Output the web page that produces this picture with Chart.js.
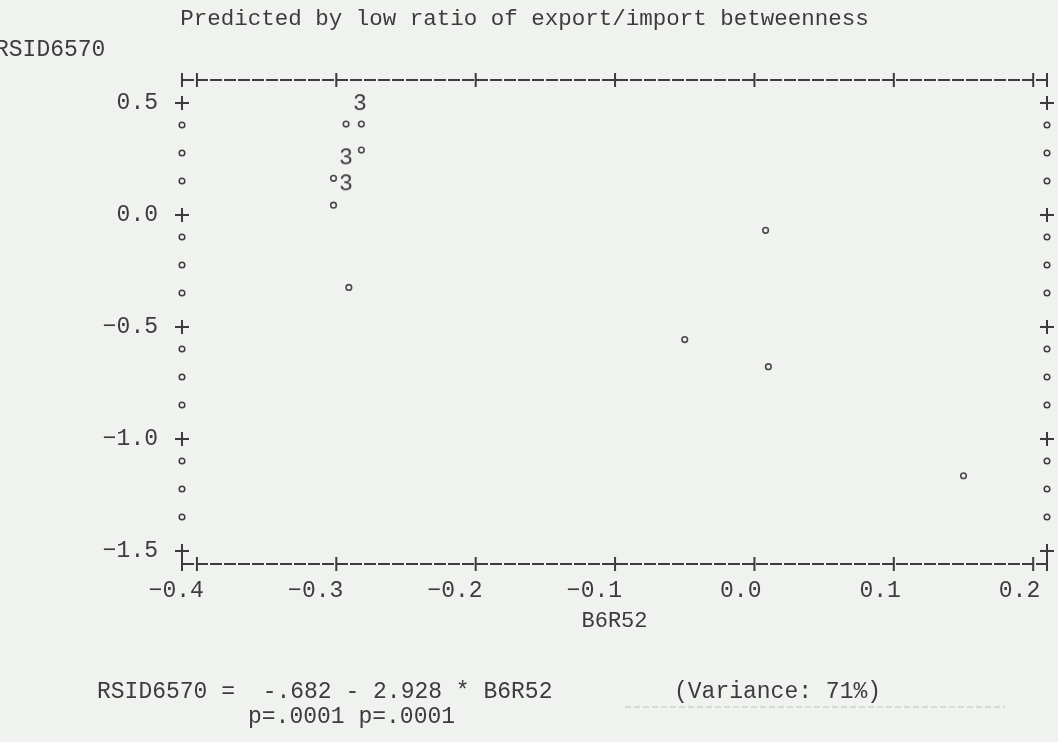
<!DOCTYPE html>
<html>
<head>
<meta charset="utf-8">
<script src="https://cdn.jsdelivr.net/npm/chart.js@4.4.1/dist/chart.umd.min.js"></script>
<style>
    html, body { margin: 0; padding: 0; background: #eff2ee; }
    #wrap { width: 1058px; height: 742px; }
</style>
</head>
<body>
<div id="wrap"><canvas id="plotChart"></canvas></div>
<script>
// axis ticks
const xTicks = [-0.4, -0.3, -0.2, -0.1, 0.0, 0.1, 0.2];
const yMajor = [0.5, 0.0, -0.5, -1.0, -1.5];
const yRows = [0.5, 0.375, 0.25, 0.125, 0.0, -0.125, -0.25, -0.375, -0.5,
    -0.625, -0.75, -0.875, -1.0, -1.125, -1.25, -1.375, -1.5];

// single observations (B6R52, RSID6570)
const singleX = [-0.293, -0.282, -0.282, -0.302, -0.302, -0.291, 0.008, -0.050, 0.010, 0.150];
const singleY = [0.406, 0.406, 0.290, 0.164, 0.044, -0.323, -0.068, -0.556, -0.677, -1.164];

// stacked observations, printed as their count
const multiX = [-0.283, -0.293, -0.293];
const multiY = [0.500, 0.258, 0.142];
const multiCount = [3, 3, 3];

const ink = '#3c3c3c';
const mono = 'Liberation Mono';
const bg = '#eff2ee';

function fmtTick(v) {
    if (Math.abs(v) < 1e-9) return '0.0';
    return (v < 0 ? '−' : '') + Math.abs(v).toFixed(1);
}

function glyph(ch) {
    const c = document.createElement('canvas');
    c.width = 18;
    c.height = 26;
    const g = c.getContext('2d');
    g.font = `23px "${mono}"`;
    g.fillStyle = ink;
    g.textAlign = 'center';
    g.textBaseline = 'middle';
    g.fillText(ch, 9, 14);
    return c;
}

const printerFrame = {
    id: 'printerFrame',
    beforeDatasetsDraw(chart) {
        const { ctx, chartArea, scales } = chart;
        const { left, right, top, bottom } = chartArea;
        const arm = 7;
        ctx.save();
        ctx.strokeStyle = ink;
        ctx.lineWidth = 2;

        ctx.setLineDash([12, 2]);
        [top, bottom].forEach(yy => {
            ctx.beginPath();
            ctx.moveTo(left, yy);
            ctx.lineTo(right, yy);
            ctx.stroke();
        });
        ctx.setLineDash([]);

        const cols = [left, right].concat(xTicks.map(v => scales.x.getPixelForValue(v)));
        cols.forEach(px => {
            [top, bottom].forEach(yy => {
                ctx.beginPath();
                ctx.moveTo(px, yy - arm);
                ctx.lineTo(px, yy + arm);
                ctx.stroke();
            });
        });

        yRows.forEach(v => {
            const py = scales.y.getPixelForValue(v);
            [left, right].forEach(px => {
                if (yMajor.includes(v)) {
                    ctx.lineWidth = 2;
                    ctx.beginPath();
                    ctx.moveTo(px - arm, py);
                    ctx.lineTo(px + arm, py);
                    ctx.moveTo(px, py - arm);
                    ctx.lineTo(px, py + arm);
                    ctx.stroke();
                } else {
                    ctx.lineWidth = 1.5;
                    ctx.beginPath();
                    ctx.arc(px, py - 6, 2.8, 0, Math.PI * 2);
                    ctx.stroke();
                }
            });
        });
        ctx.restore();
    }
};

const printerText = {
    id: 'printerText',
    afterDraw(chart) {
        const ctx = chart.ctx;
        ctx.save();
        ctx.fillStyle = ink;
        ctx.font = `23px "${mono}"`;
        ctx.textBaseline = 'middle';
        ctx.textAlign = 'left';
        ctx.fillText('RSID6570', -5, 50);
        ctx.fillText('RSID6570 =  -.682 - 2.928 * B6R52', 97, 692);
        ctx.fillText('(Variance: 71%)', 674, 692);
        ctx.fillText('p=.0001 p=.0001', 248, 717);

        ctx.strokeStyle = 'rgba(60,60,60,0.25)';
        ctx.lineWidth = 1;
        ctx.setLineDash([6, 3]);
        ctx.beginPath();
        ctx.moveTo(625, 707);
        ctx.lineTo(1005, 707);
        ctx.stroke();
        ctx.restore();
    }
};

const multiStyles = multiCount.map(n => glyph(String(n)));

new Chart(document.getElementById('plotChart'), {
    type: 'scatter',
    data: {
        datasets: [{
            label: 'single',
            data: singleX.map((x, i) => ({ x: x, y: singleY[i] })),
            pointStyle: 'circle',
            pointRadius: 2.8,
            borderWidth: 1.6,
            borderColor: '#4a4a4a',
            backgroundColor: bg
        }, {
            label: 'multiple',
            data: multiX.map((x, i) => ({ x: x, y: multiY[i] })),
            pointStyle: multiStyles,
            pointRadius: 10
        }]
    },
    options: {
        responsive: true,
        maintainAspectRatio: false,
        animation: false,
        events: [],
        layout: { padding: { left: 0, right: 9, top: 0, bottom: 108 } },
        plugins: {
            legend: { display: false },
            tooltip: { enabled: false },
            title: {
                display: true,
                text: 'Predicted by low ratio of export/import betweenness',
                color: ink,
                font: { family: mono, size: 22.5, weight: 'normal' },
                padding: { top: 6, bottom: 47 }
            }
        },
        scales: {
            x: {
                type: 'linear',
                min: -0.4107,
                max: 0.2099,
                afterBuildTicks: s => { s.ticks = xTicks.map(v => ({ value: v })); },
                grid: { display: false, drawTicks: false },
                border: { display: false },
                ticks: {
                    color: ink,
                    font: { family: mono, size: 23 },
                    padding: 13,
                    align: 'end',
                    labelOffset: 7,
                    maxRotation: 0,
                    autoSkip: false,
                    callback: v => fmtTick(v)
                },
                title: {
                    display: true,
                    text: 'B6R52',
                    color: ink,
                    font: { family: mono, size: 22 },
                    padding: { top: -10, bottom: 0 }
                }
            },
            y: {
                type: 'linear',
                min: -1.558,
                max: 0.603,
                afterBuildTicks: s => { s.ticks = yMajor.map(v => ({ value: v })); },
                afterFit: s => { s.width = 182; },
                grid: { display: false, drawTicks: false },
                border: { display: false },
                ticks: {
                    color: ink,
                    font: { family: mono, size: 23 },
                    padding: 24,
                    callback: v => fmtTick(v)
                }
            }
        }
    },
    plugins: [printerFrame, printerText]
});
</script>
</body>
</html>
